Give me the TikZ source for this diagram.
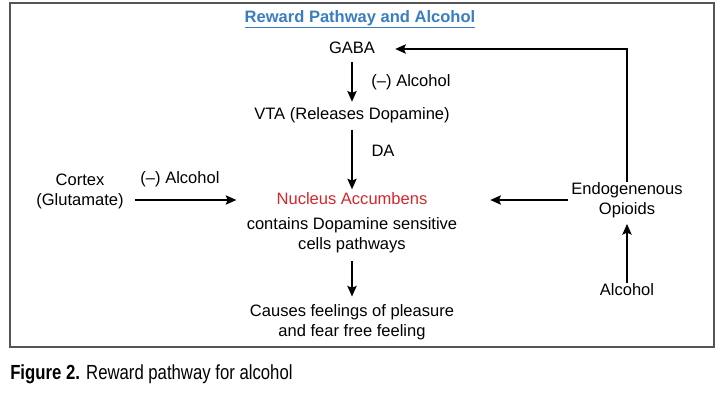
\documentclass[tikz,border=0pt]{standalone}
\usepackage{fontspec}
\setmainfont{Liberation Sans}
\newfontfamily\capfont[FakeStretch=0.82]{Liberation Sans}
\usepackage{tikz}
\usetikzlibrary{
  arrows.meta,
  positioning,
  calc
}
\definecolor{titleblue}{RGB}{58,125,192}
\definecolor{nacred}{RGB}{214,38,44}
\definecolor{framegray}{RGB}{85,85,85}
\tikzset{>={Stealth[length=8pt, width=7pt, inset=1.5pt]}}
\tikzset{lbl/.style={font=\fontsize{12.4}{15}\selectfont, align=center, inner sep=2pt}}
\tikzset{oneline/.style={lbl, text height=9pt, text depth=2.6pt}}
\tikzset{flow/.style={->, line width=1.05pt}}

\begin{document}
\begin{tikzpicture}[x=0.75pt, y=-0.75pt]
  \useasboundingbox (0,0) rectangle (726,414);
  \draw[framegray, line width=1.1pt] (10,3) rectangle (714,347);
  % title
  \node[oneline, text=titleblue, font=\fontsize{12.4}{15}\selectfont\bfseries] (title) at (360,18) {\underline{Reward Pathway and Alcohol}};
  % main column
  \node[oneline] (gaba) at (352,49) {GABA};
  \node[oneline] (vta) at (352,115) {VTA (Releases Dopamine)};
  \node[oneline, text=nacred] (nac) at (352,200) {Nucleus Accumbens};
  \node[lbl] (cells) at (352,235.5) {contains Dopamine sensitive\\cells pathways};
  \node[lbl] (causes) at (352,322.5) {Causes feelings of pleasure\\and fear free feeling};
  % sides
  \node[lbl] (cortex) at (80,191.5) {Cortex\\(Glutamate)};
  \node[lbl] (opioids) at (627,200) {Endogenenous\\Opioids};
  \node[oneline] (alcohol) at (627,291) {Alcohol};
  % arrow labels
  \node[oneline] (gabalbl) at (411,82) {(--) Alcohol};
  \node[oneline] (dalbl) at (383,152) {DA};
  \node[oneline] (cortexlbl) at (180,179) {(--) Alcohol};
  % arrows
  \draw[flow, shorten <=2pt, shorten >=2pt] (gaba) -- (vta);
  \draw[flow, shorten <=3pt] (vta) -- (nac);
  \draw[flow, shorten <=4pt, shorten >=4pt] (cells) -- (causes);
  \draw[flow, shorten <=6pt, shorten >=28pt] (cortex.east |- nac) -- (nac);
  \draw[flow, shorten >=45pt] (opioids.west |- nac) -- (nac);
  \draw[flow, shorten <=-2pt, shorten >=13pt] (opioids.north) |- (gaba.east);
  \draw[flow, shorten <=-2pt, shorten >=2.5pt] (alcohol) -- (opioids);
  % caption
  \node[anchor=west, inner sep=0pt, font=\capfont\fontsize{15.3}{18}\selectfont] (caption) at (10,374) {\textbf{Figure 2.} Reward pathway for alcohol};
\end{tikzpicture}
\end{document}
